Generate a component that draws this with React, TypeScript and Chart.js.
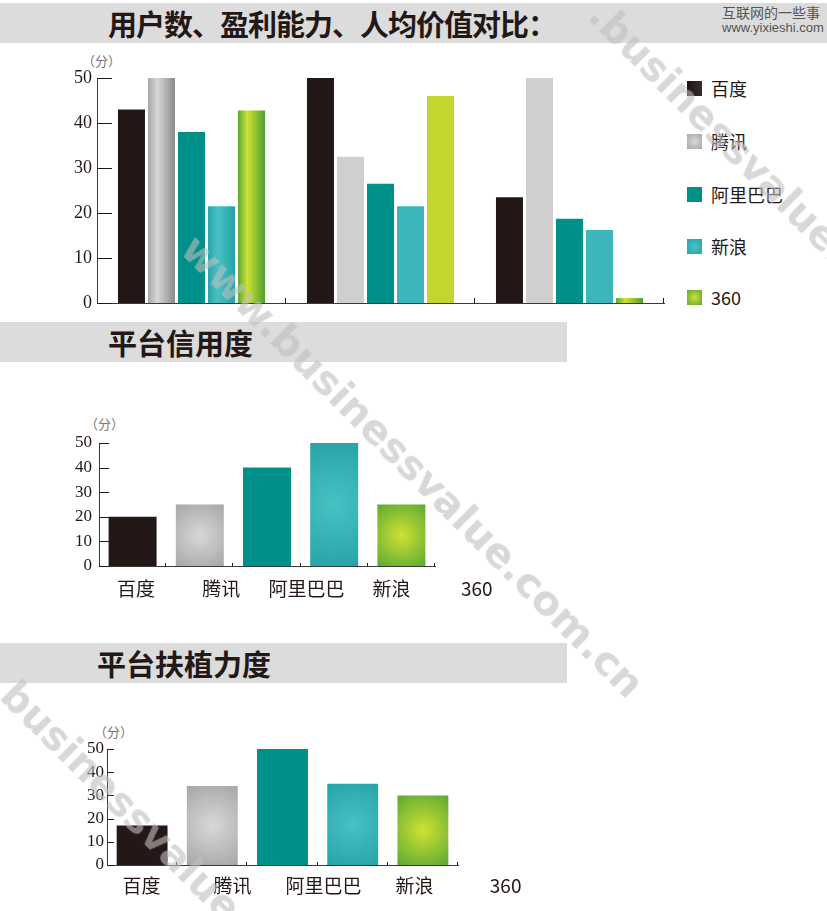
import React, { useEffect, useRef } from "react";
import { Chart, registerables } from "chart.js";

Chart.register(...registerables);

// ---------------- data ----------------
const companies = ["百度", "腾讯", "阿里巴巴", "新浪", "360"];
const metricGroups = ["用户数", "盈利能力", "人均价值"];
const baiduScores = [43, 50, 23.5];
const tencentScores = [50, 32.5, 50];
const alibabaScores = [38, 26.5, 18.7];
const sinaScores = [21.5, 21.5, 16.2];
const q360Scores = [42.8, 46, 1.1];
const creditScores = [20, 25, 40, 50, 25];
const supportScores = [17, 34, 50, 35, 30];
const scoreTicks = [0, 10, 20, 30, 40, 50];
const axisLabels = ["百度", "腾讯", "阿里巴巴", "新浪", "360"];

// ---------------- styles ----------------
const flatColors = ["#231815", "#cfcfcf", "#00908a", "#3cb6ba", "#c3d52f"];
const shadeStops = [
  ["#1c1210", "#3b2d29", "#1c1210"],
  ["#a6a6a6", "#d8d8d8", "#8a8a8a"],
  ["#008b85", "#00968f", "#008b85"],
  ["#27a3a7", "#48c1c5", "#27a3a7"],
  ["#5aa934", "#d0e133", "#4c9e31"],
];
const INK = "#231815";
const SERIF = "'Liberation Serif', 'DejaVu Serif', serif";
const CJK = "'Noto Sans CJK SC', 'Noto Sans', sans-serif";
const CAT1 = 0.794;
const BAR1 = 0.9;

function shadeGrouped(ctx: any) {
  const ds = ctx.datasetIndex;
  const i = ctx.dataIndex;
  const flat = flatColors[ds];
  if (ctx.type !== "data") return flat;
  const chart = ctx.chart;
  const xs = chart.scales && chart.scales.x;
  if (!chart.chartArea || !xs) return flat;
  const shaded = (i === 0 && ds !== 0 && ds !== 2) || (i === 2 && ds === 4);
  if (!shaded) return flat;
  const n = chart.data.labels.length;
  const nd = chart.data.datasets.length;
  const gw = (xs.width / n) * CAT1;
  const slot = gw / nd;
  const cx = xs.getPixelForValue(i) - gw / 2 + slot * (ds + 0.5);
  const w = slot * BAR1;
  const g = chart.ctx.createLinearGradient(cx - w / 2, 0, cx + w / 2, 0);
  const s = shadeStops[ds];
  g.addColorStop(0, s[0]);
  g.addColorStop(0.35, s[1]);
  g.addColorStop(1, s[2]);
  return g;
}

function shadeRadial(barPct: number) {
  return (ctx: any) => {
    const i = ctx.dataIndex;
    const flat = flatColors[i] ?? flatColors[0];
    if (ctx.type !== "data") return flat;
    if (i === 0 || i === 2) return flat;
    const chart = ctx.chart;
    const xs = chart.scales && chart.scales.x;
    const ys = chart.scales && chart.scales.y;
    if (!chart.chartArea || !xs || !ys) return flat;
    const cx = xs.getPixelForValue(i);
    const w = (xs.width / chart.data.labels.length) * barPct;
    const top = ys.getPixelForValue(ctx.raw);
    const base = ys.getPixelForValue(0);
    const cy = (top + base) / 2;
    const r = 0.5 * Math.hypot(w, base - top);
    const g = chart.ctx.createRadialGradient(cx, cy, 0, cx, cy, r);
    const s = shadeStops[i];
    g.addColorStop(0, s[1]);
    g.addColorStop(1, s[0]);
    return g;
  };
}

// inward y tick marks and small upward category-boundary marks
const axisMarks = {
  id: "axisMarks",
  beforeDatasetsDraw(chart: any, _args: any, opts: any) {
    const { ctx } = chart;
    const xs = chart.scales.x;
    const ys = chart.scales.y;
    ctx.save();
    ctx.strokeStyle = opts.color || INK;
    ctx.lineWidth = 1;
    ctx.beginPath();
    ys.ticks.forEach((_: any, i: number) => {
      const y = Math.round(ys.getPixelForTick(i)) + 0.5;
      ctx.moveTo(xs.left, y);
      ctx.lineTo(xs.left + opts.yLen, y);
    });
    const n = chart.data.labels.length;
    for (let i = 1; i <= n; i++) {
      const x = Math.round(xs.getPixelForValue(i - 0.5)) - 0.5;
      ctx.moveTo(x, ys.bottom);
      ctx.lineTo(x, ys.bottom - opts.xLen);
    }
    ctx.stroke();
    ctx.restore();
  },
};

function yAxis(width: number, size: number, padding: number) {
  return {
    min: 0,
    max: 50,
    afterBuildTicks: (s: any) => {
      s.ticks = scoreTicks.map((v) => ({ value: v }));
    },
    ticks: { color: INK, padding, autoSkip: false, font: { family: SERIF, size } },
    grid: { display: false, drawTicks: false },
    border: { display: true, color: "#3a3a3a", width: 1 },
    afterFit: (s: any) => {
      s.width = width;
    },
  };
}

function xCategory(height: number) {
  return {
    type: "category",
    ticks: { display: false },
    grid: { display: false, drawTicks: false },
    border: { display: true, color: "#3a3a3a", width: 1 },
    afterFit: (s: any) => {
      s.height = height;
    },
  };
}

function xLabelAxis(min: number, max: number, height: number, padding: number) {
  return {
    type: "linear",
    position: "bottom",
    offset: false,
    min,
    max,
    grid: { display: false, drawTicks: false, offset: false },
    border: { display: false },
    afterBuildTicks: (s: any) => {
      s.ticks = axisLabels.map((_, v) => ({ value: v }));
    },
    ticks: {
      autoSkip: false,
      maxRotation: 0,
      minRotation: 0,
      padding,
      color: INK,
      font: { family: CJK, size: 19 },
      callback: (_v: any, idx: number) => axisLabels[idx] ?? "",
    },
    afterFit: (s: any) => {
      s.height = height;
      s.paddingLeft = 0;
      s.paddingRight = 0;
    },
  };
}

function config1(): any {
  const series = [baiduScores, tencentScores, alibabaScores, sinaScores, q360Scores];
  return {
    type: "bar",
    data: {
      labels: metricGroups,
      datasets: series.map((d, k) => ({
        label: companies[k],
        data: d,
        backgroundColor: shadeGrouped,
        borderWidth: 0,
        barPercentage: BAR1,
        categoryPercentage: CAT1,
      })),
    },
    options: {
      animation: false,
      responsive: true,
      maintainAspectRatio: false,
      events: [],
      layout: { padding: { top: 33, right: 16, left: 0, bottom: 0 } },
      plugins: {
        legend: { display: false },
        tooltip: { enabled: false },
        axisMarks: { yLen: 15, xLen: 5 },
      },
      scales: { x: xCategory(17), y: yAxis(97, 18, 5) },
    },
    plugins: [axisMarks],
  };
}

function configSingle(values: number[], barPct: number, o: any): any {
  return {
    type: "bar",
    data: {
      labels: companies,
      datasets: [
        {
          label: "score",
          data: values,
          backgroundColor: shadeRadial(barPct),
          borderWidth: 0,
          barPercentage: barPct,
          categoryPercentage: 1,
        },
      ],
    },
    options: {
      animation: false,
      responsive: true,
      maintainAspectRatio: false,
      events: [],
      layout: { padding: { top: o.top, right: o.right, left: 0, bottom: 0 } },
      plugins: {
        legend: { display: false },
        tooltip: { enabled: false },
        axisMarks: { yLen: o.yLen, xLen: 3 },
      },
      scales: {
        x: xCategory(0),
        x2: xLabelAxis(o.min, o.max, o.bottom, o.labelPad),
        y: yAxis(o.yWidth, 17, o.yPad),
      },
    },
    plugins: [axisMarks],
  };
}

function ChartBox(props: { left: number; top: number; width: number; height: number; make: () => any }) {
  const ref = useRef<HTMLCanvasElement>(null);
  useEffect(() => {
    const chart = new Chart(ref.current as HTMLCanvasElement, props.make());
    return () => chart.destroy();
  }, []);
  return (
    <div style={{ position: "absolute", left: props.left, top: props.top, width: props.width, height: props.height }}>
      <canvas ref={ref} />
    </div>
  );
}

function Banner(props: { top: number; width: number; left: number; text: string; spacing?: number }) {
  return (
    <div
      style={{
        position: "absolute",
        left: 0,
        top: props.top,
        width: props.width,
        height: 40,
        background: "#dcdcdc",
      }}
    >
      <div
        style={{
          position: "absolute",
          left: props.left,
          top: 0,
          height: 40,
          lineHeight: "40px",
          fontFamily: CJK,
          fontWeight: 700,
          fontSize: 29,
          letterSpacing: props.spacing ?? 0,
          color: INK,
          whiteSpace: "nowrap",
        }}
      >
        {props.text}
      </div>
    </div>
  );
}

function Unit(props: { left: number; top: number }) {
  return (
    <div
      style={{
        position: "absolute",
        left: props.left,
        top: props.top,
        fontFamily: CJK,
        fontSize: 13,
        lineHeight: "14px",
        color: "#777",
        whiteSpace: "nowrap",
      }}
    >
      （分）
    </div>
  );
}

const swatchBg = [
  `linear-gradient(90deg, ${shadeStops[0][0]}, ${shadeStops[0][1]})`,
  `radial-gradient(circle, ${shadeStops[1][1]}, ${shadeStops[1][0]})`,
  flatColors[2],
  `radial-gradient(circle, ${shadeStops[3][1]}, ${shadeStops[3][0]})`,
  `radial-gradient(circle, ${shadeStops[4][1]}, ${shadeStops[4][0]})`,
];
const legendY = [88, 141, 194, 246, 297];

function Legend() {
  return (
    <>
      {companies.map((name, k) => (
        <div key={name} style={{ position: "absolute", left: 687, top: legendY[k] - 11, height: 22, display: "flex", alignItems: "center" }}>
          <div style={{ width: 15, height: 15, background: swatchBg[k] }} />
          <div style={{ marginLeft: 9, fontFamily: CJK, fontSize: 18, color: INK, lineHeight: "22px" }}>{name}</div>
        </div>
      ))}
    </>
  );
}

function Watermark(props: { x: number; y: number; text: string; size: number }) {
  return (
    <div
      style={{
        position: "absolute",
        left: props.x,
        top: props.y,
        transformOrigin: "0 0",
        transform: "rotate(45deg) translate(0, -50%)",
        fontFamily: "'DejaVu Sans', sans-serif",
        fontWeight: 700,
        fontSize: props.size,
        lineHeight: 1,
        color: "rgba(190,190,190,0.6)",
        whiteSpace: "nowrap",
        pointerEvents: "none",
      }}
    >
      {props.text}
    </div>
  );
}

export default function App() {
  return (
    <div
      style={{
        position: "absolute",
        left: 0,
        top: 0,
        width: 827,
        height: 911,
        background: "#fff",
        overflow: "hidden",
      }}
    >
      <Banner top={3} width={827} left={108} spacing={-1} text="用户数、盈利能力、人均价值对比：" />
      <div style={{ position: "absolute", left: 722, top: 4, fontFamily: CJK, fontSize: 14, lineHeight: "16px", color: "#555", whiteSpace: "nowrap" }}>
        互联网的一些事
      </div>
      <div style={{ position: "absolute", left: 722, top: 20, fontFamily: "'Liberation Sans Narrow', 'Liberation Sans', sans-serif", fontSize: 13, lineHeight: "15px", color: "#555", whiteSpace: "nowrap" }}>
        www.yixieshi.com
      </div>

      <Unit left={82} top={54} />
      <ChartBox left={0} top={45} width={680} height={275} make={config1} />
      <Legend />

      <Banner top={322} width={567} left={108} text="平台信用度" />
      <Unit left={85} top={417} />
      <ChartBox
        left={0}
        top={400}
        width={560}
        height={220}
        make={() =>
          configSingle(creditScores, 0.714, {
            top: 43,
            right: 125,
            bottom: 54,
            yWidth: 99,
            yPad: 7,
            yLen: 10,
            labelPad: 11,
            min: -0.4343,
            max: 3.5094,
          })
        }
      />

      <Banner top={643} width={567} left={97} text="平台扶植力度" />
      <Unit left={94} top={725} />
      <ChartBox
        left={0}
        top={700}
        width={560}
        height={211}
        make={() =>
          configSingle(supportScores, 0.725, {
            top: 49,
            right: 102,
            bottom: 46,
            yWidth: 107,
            yPad: 3,
            yLen: 7,
            labelPad: 9,
            min: -0.3802,
            max: 3.4769,
          })
        }
      />

      <Watermark x={188} y={242} size={41} text="www.businessvalue.com.cn" />
      <Watermark x={596} y={8} size={40} text=".businessvalue." />
      <Watermark x={8} y={688} size={40} text="businessvalue" />
    </div>
  );
}
